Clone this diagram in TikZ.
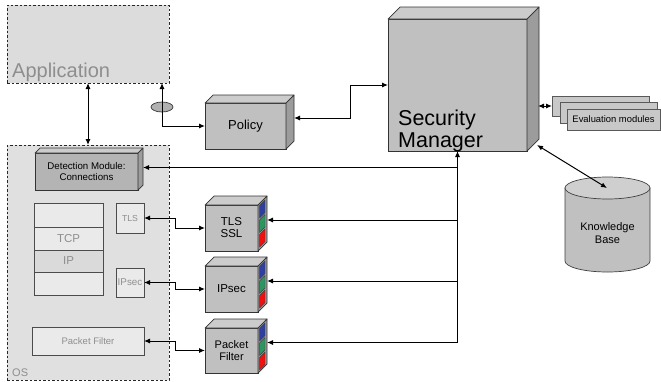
\documentclass[tikz,border=0pt]{standalone}
\usepackage{fontspec}
\setmainfont{Liberation Sans}
\usetikzlibrary{arrows.meta,calc,shapes.geometric}
\definecolor{cfront}{HTML}{C0C0C0}
\definecolor{ctop}{HTML}{CCCCCC}
\definecolor{cside}{HTML}{9C9C9C}
\definecolor{cdm}{HTML}{B4B4B4}
\definecolor{capp}{HTML}{DCDCDC}
\definecolor{cos}{HTML}{E0E0E0}
\definecolor{cinner}{HTML}{EAEAEA}
\definecolor{cip}{HTML}{DADADA}
\definecolor{cgraytext}{HTML}{8E8E8E}
\definecolor{cev}{HTML}{C8C8C8}
\definecolor{ckb}{HTML}{C0C0C0}
\definecolor{ckbtop}{HTML}{CFCFCF}
\definecolor{sqblue}{HTML}{2F3FA0}
\definecolor{sqgreen}{HTML}{2E9460}
\definecolor{sqred}{HTML}{F01010}
\newcommand\fs[2]{\fontsize{#1}{#2}\selectfont}
\newcommand\cubefaces[2]{%
  \draw[topf] (#1.north west) -- ++(#2,-#2) -- ([shift={(#2,-#2)}]#1.north east) -- (#1.north east) -- cycle;
  \draw[sidef] (#1.north east) -- ++(#2,-#2) -- ([shift={(#2,-#2)}]#1.south east) -- (#1.south east) -- cycle;}
\newcommand\sidesq[3]{%
  \filldraw[fill=#3, draw=black!75, line width=0.4pt] ([shift={(1.6,#2-1.6)}]#1.north east) -- ++(5.4,-5.4) -- ++(0,12.5) -- ++(-5.4,5.4) -- cycle;}
\begin{document}
\begin{tikzpicture}[x=1pt,y=-1pt,
  face/.style={draw=black!80, fill=cfront, line width=0.7pt, inner sep=0pt, outer sep=0pt, align=center},
  topf/.style={draw=black!80, fill=ctop, line width=0.7pt, line join=round},
  sidef/.style={draw=black!80, fill=cside, line width=0.7pt, line join=round},
  region/.style={draw=black!85, dashed, dash pattern=on 2.5pt off 2pt, line width=0.7pt, inner sep=0pt, outer sep=0pt},
  inbox/.style={draw=black!70, fill=cinner, line width=0.7pt, inner sep=0pt, outer sep=0pt, text=cgraytext, align=center},
  evbox/.style={draw=black!65, fill=cev, line width=0.7pt, inner sep=0pt, outer sep=0pt},
  both/.style={line width=1pt, {Latex[length=6pt,width=5pt]}-{Latex[length=6pt,width=5pt]}},
  one/.style={line width=1pt, -{Latex[length=6pt,width=5pt]}}
]
\useasboundingbox (0,0) rectangle (661,381);

% regions
\node[region, fill=capp, minimum width=162, minimum height=78] (app) at (88,44) {};
\node[anchor=base west, inner sep=0pt, text=cgraytext, font=\fs{20}{24}] (applabel) at (12,77) {Application};
\node[region, fill=cos, minimum width=162, minimum height=235] (os) at (88,262.5) {};
\node[anchor=base west, inner sep=0pt, text=cgraytext, font=\fs{11}{13}] (oslabel) at (12,376) {OS};

% OS internals
\node[inbox, fill=cinner, minimum width=69, minimum height=24] (st1) at (68.5,215) {};
\node[inbox, fill=cinner, minimum width=69, minimum height=23, font=\fs{11.5}{13}] (st2) at (68.5,238.5) {TCP};
\node[inbox, fill=cip, minimum width=69, minimum height=22, font=\fs{11.5}{13}] (st3) at (68.5,261) {IP};
\node[inbox, fill=cinner, minimum width=69, minimum height=23] (st4) at (68.5,283.5) {};
\node[inbox, minimum width=28, minimum height=30, font=\fs{8.7}{10}] (tlss) at (130,218) {TLS};
\node[inbox, minimum width=28, minimum height=29, font=\fs{9.8}{11}] (ips) at (130,282.5) {IPsec};
\node[inbox, fill=cinner, minimum width=112, minimum height=28, font=\fs{9.5}{11}] (pfs) at (88,341) {Packet Filter};

% Detection module
\node[face, fill=cdm, minimum width=103, minimum height=37, font=\fs{9.7}{10.5}] (dm) at (86.5,171.5) {Detection Module:\\Connections};
\cubefaces{dm}{5}

% Policy
\node[face, minimum width=81, minimum height=46, font=\fs{13}{15}] (pol) at (245.5,126) {Policy};
\cubefaces{pol}{8}

% Security manager
\node[face, minimum width=139, minimum height=132] (sm) at (457.5,85) {};
\cubefaces{sm}{12}
\node[anchor=base west, inner sep=0pt, align=left, font=\fs{21.5}{22}] (smlabel) at (398,125) {Security};
\node[anchor=base west, inner sep=0pt, align=left, font=\fs{21.5}{22}] (smlabel2) at (398,147) {Manager};

% Protocol modules
\node[face, minimum width=53, minimum height=46, font=\fs{11.5}{12}] (tlsb) at (231.5,228) {TLS\\SSL};
\cubefaces{tlsb}{9}
\sidesq{tlsb}{2}{sqblue}\sidesq{tlsb}{16.5}{sqgreen}\sidesq{tlsb}{31}{sqred}
\node[face, minimum width=53, minimum height=46, font=\fs{11.5}{12}] (ipb) at (231.5,289) {IPsec};
\cubefaces{ipb}{9}
\sidesq{ipb}{2}{sqblue}\sidesq{ipb}{16.5}{sqgreen}\sidesq{ipb}{31}{sqred}
\node[face, minimum width=53, minimum height=45, font=\fs{11}{11.5}] (pfb) at (231.5,350.5) {Packet\\Filter};
\cubefaces{pfb}{9}
\sidesq{pfb}{2}{sqblue}\sidesq{pfb}{16.5}{sqgreen}\sidesq{pfb}{31}{sqred}

% Evaluation modules
\node[evbox, minimum width=97, minimum height=20] (ev1) at (600.5,106) {};
\node[evbox, minimum width=97, minimum height=21] (ev2) at (608.5,112.5) {};
\node[evbox, minimum width=93, minimum height=21, font=\fs{9.4}{11}] (ev3) at (613.5,119.5) {Evaluation modules};

% Knowledge base
\filldraw[fill=ckb, draw=black!75, line width=0.7pt] (565,188) -- (565,261) arc[start angle=180, end angle=0, x radius=42.5, y radius=11] -- (650,188) -- cycle;
\filldraw[fill=ckbtop, draw=black!75, line width=0.7pt] (607.5,188) ellipse[x radius=42.5, y radius=11];
\node[align=center, inner sep=0pt, font=\fs{11}{13}] (kb) at (607.5,233) {Knowledge\\Base};
\coordinate (kbtop) at (607,188);

% ellipse token
\node[ellipse, draw=black!80, fill=cside!80, line width=0.7pt, minimum width=22, minimum height=10, inner sep=0pt] (tok) at (162,107) {};

% connectors
\draw[both] (app.south) -- (os.north);
\draw[both] ([xshift=74]app.south) |- (pol.west);
\draw[both] ([shift={(8,-8)}]pol.east) -- ++(56,0) |- (sm.west);
\draw[both] ([shift={(11,21)}]sm.east) -- (ev1.west);
\draw[both] ([shift={(10,-6)}]sm.south east) -- (kbtop);
\draw[both] ([shift={(9,-8)}]pfb.east) -| (sm.south);
\draw[one] (sm.south |- tlsb.east) ++(0,-8) -- ([shift={(9,-8)}]tlsb.east);
\draw[one] (sm.south |- ipb.east) ++(0,-8) -- ([shift={(9,-8)}]ipb.east);
\draw[one] (sm.south |- dm.east) ++(0,-4) -- ([shift={(5,-4)}]dm.east);
\draw[both] (tlss.east) -- ++(31,0) |- (tlsb.west);
\draw[both] (ips.east) -- ++(31,0) |- (ipb.west);
\draw[both] (pfs.east) -- ++(31,0) |- (pfb.west);
\end{tikzpicture}
\end{document}
